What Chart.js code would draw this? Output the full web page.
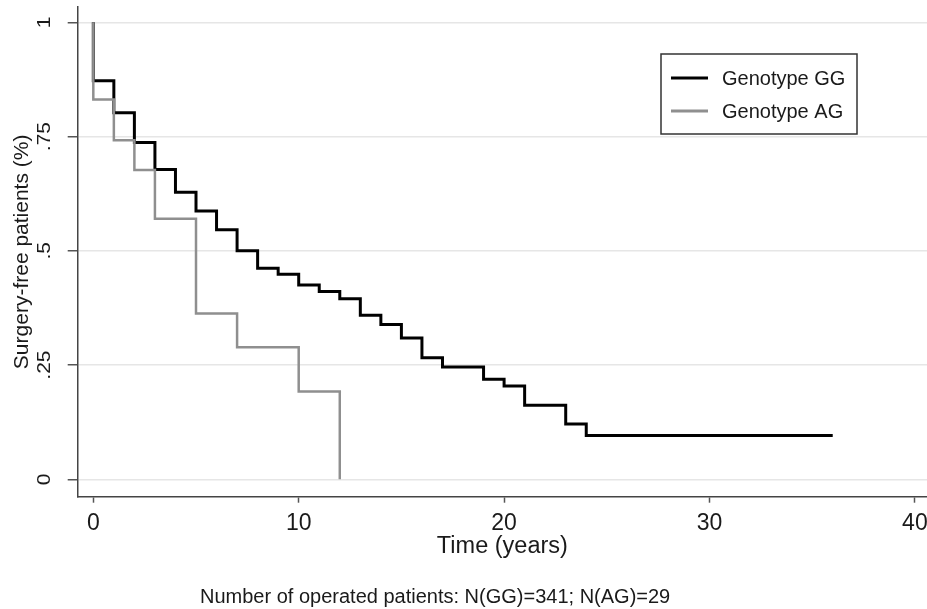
<!DOCTYPE html>
<html>
<head>
<meta charset="utf-8">
<script src="https://cdn.jsdelivr.net/npm/chart.js@4.4.1/dist/chart.umd.min.js"></script>
<style>
  html, body { margin: 0; padding: 0; background: #fff; }
  #wrap { width: 927px; height: 609px; position: relative; }
</style>
</head>
<body>
<div id="wrap"><canvas id="cvs"></canvas></div>
<script>
// Kaplan-Meier style steps: survival value after each time point
const ggTimes    = [0, 0, 1, 2, 3, 4, 5, 6, 7, 8, 9, 10, 11, 12, 13, 14, 15, 16, 17, 19, 20, 21, 23, 24, 36];
const ggSurvival = [1, 0.872, 0.802, 0.737, 0.678, 0.628, 0.587, 0.546, 0.500, 0.462, 0.449, 0.425, 0.411, 0.395, 0.359, 0.339, 0.309, 0.266, 0.246, 0.219, 0.204, 0.162, 0.121, 0.096, 0.096];
const agTimes    = [0, 0, 1, 2, 3, 5, 7, 10, 12];
const agSurvival = [1, 0.831, 0.742, 0.677, 0.570, 0.363, 0.289, 0.192, 0];

const xTicks = [0, 10, 20, 30, 40];
const yTicks = [0, 0.25, 0.5, 0.75, 1];
const yTickLabels = ['0', '.25', '.5', '.75', '1'];

const seriesLabels = ['Genotype GG', 'Genotype AG'];
const noteText = 'Number of operated patients: N(GG)=341; N(AG)=29';

const FONT = "'Liberation Sans', Arial, sans-serif";

function toPoints(xs, ys) {
    return xs.map((x, i) => ({ x: x, y: ys[i] }));
}

// rotated y tick labels, boxed legend and the note under the axis
const extras = {
    id: 'extras',
    afterDraw: function(chart) {
        const ctx = chart.ctx;
        const y = chart.scales.y;
        const area = chart.chartArea;

        ctx.save();
        ctx.fillStyle = '#1a1a1a';
        ctx.font = '21px ' + FONT;
        ctx.textAlign = 'center';
        ctx.textBaseline = 'alphabetic';
        yTicks.forEach((v, i) => {
            ctx.save();
            ctx.translate(50, y.getPixelForValue(v));
            ctx.rotate(-Math.PI / 2);
            ctx.scale(1, 0.85);
            ctx.fillText(yTickLabels[i], 0, 0);
            ctx.restore();
        });
        ctx.restore();

        // legend box
        const bx = area.right - 266, by = area.top + 47, bw = 196, bh = 80;
        ctx.save();
        ctx.strokeStyle = '#333';
        ctx.lineWidth = 1.5;
        ctx.strokeRect(bx, by, bw, bh);
        ctx.font = '20px ' + FONT;
        ctx.textAlign = 'left';
        ctx.textBaseline = 'middle';
        chart.data.datasets.forEach((ds, i) => {
            const ly = by + 24 + i * 33;
            ctx.strokeStyle = ds.borderColor;
            ctx.lineWidth = 3;
            ctx.beginPath();
            ctx.moveTo(bx + 10, ly);
            ctx.lineTo(bx + 47, ly);
            ctx.stroke();
            ctx.fillStyle = '#1a1a1a';
            ctx.fillText(ds.label, bx + 61, ly + 1);
        });
        ctx.restore();

        // note
        ctx.save();
        ctx.fillStyle = '#1a1a1a';
        ctx.font = '20px ' + FONT;
        ctx.textAlign = 'left';
        ctx.textBaseline = 'alphabetic';
        ctx.fillText(noteText, 200, 603);
        ctx.restore();
    }
};

const ctx = document.getElementById('cvs');
const chart = new Chart(ctx, {
    type: 'line',
    data: {
        datasets: [
            {
                label: seriesLabels[0],
                data: toPoints(ggTimes, ggSurvival),
                borderColor: '#000000',
                borderWidth: 3,
                stepped: 'before',
                pointRadius: 0,
                fill: false,
                order: 1
            },
            {
                label: seriesLabels[1],
                data: toPoints(agTimes, agSurvival),
                borderColor: '#8f8f8f',
                borderWidth: 2.5,
                stepped: 'before',
                pointRadius: 0,
                fill: false,
                order: 0
            }
        ]
    },
    options: {
        responsive: true,
        maintainAspectRatio: false,
        animation: false,
        layout: { padding: { top: 7, left: 0, right: 0, bottom: 0 } },
        plugins: {
            legend: { display: false },
            tooltip: { enabled: false }
        },
        scales: {
            x: {
                type: 'linear',
                min: -0.76,
                max: 40.59,
                afterBuildTicks: function(scale) {
                    scale.ticks = xTicks.map(v => ({ value: v }));
                },
                afterFit: function(scale) {
                    scale.height = 112.3;
                    scale.paddingLeft = 0;
                    scale.paddingRight = 0;
                },
                grid: {
                    drawOnChartArea: false,
                    drawTicks: true,
                    tickLength: 6,
                    tickColor: '#555',
                    tickWidth: 1.5
                },
                border: { display: true, color: '#444', width: 1.5 },
                ticks: {
                    padding: 7,
                    color: '#1a1a1a',
                    maxRotation: 0,
                    font: { family: FONT, size: 23 }
                },
                title: {
                    display: true,
                    text: 'Time (years)',
                    color: '#1a1a1a',
                    font: { family: FONT, size: 23.5 },
                    padding: { top: 0, bottom: 48 }
                }
            },
            y: {
                type: 'linear',
                min: -0.038,
                max: 1.0335,
                afterBuildTicks: function(scale) {
                    scale.ticks = yTicks.map(v => ({ value: v }));
                },
                afterFit: function(scale) {
                    scale.width = 77.7;
                    scale.paddingTop = 0;
                    scale.paddingBottom = 0;
                },
                grid: {
                    color: '#e6e6e6',
                    lineWidth: 1.5,
                    drawTicks: true,
                    tickLength: 10,
                    tickColor: '#555',
                    tickWidth: 1.5
                },
                border: { display: true, color: '#444', width: 1.5 },
                ticks: { display: false },
                title: {
                    display: true,
                    text: 'Surgery-free patients (%)',
                    color: '#1a1a1a',
                    font: { family: FONT, size: 21 },
                    padding: { top: 10, bottom: 0 }
                }
            }
        }
    },
    plugins: [extras]
});
</script>
</body>
</html>
